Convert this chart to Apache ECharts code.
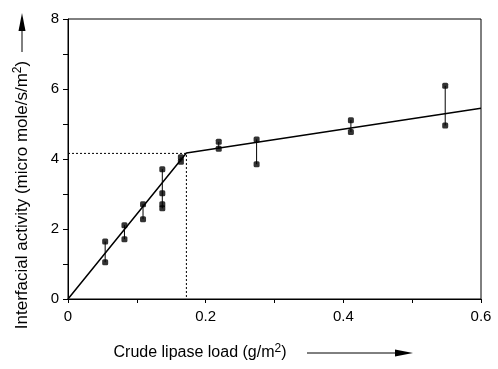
<!DOCTYPE html>
<html>
<head>
<meta charset="utf-8">
<script src="https://cdn.jsdelivr.net/npm/echarts@6/dist/echarts.min.js"></script>
<style>
  html, body { margin: 0; padding: 0; background: #fff; }
  #chart { width: 498px; height: 369px; }
</style>
</head>
<body>
<div id="chart"></div>
<script>
// lipase loads (g/m2) and the replicate activities measured at each
const loads = [0.054, 0.082, 0.109, 0.137, 0.164, 0.219, 0.274, 0.411, 0.548];
const activities = [
  [1.64, 1.05],
  [2.11, 1.71],
  [2.71, 2.28],
  [3.71, 3.02, 2.71, 2.59],
  [4.05, 3.92],
  [4.49, 4.29],
  [4.56, 3.85],
  [5.11, 4.77],
  [6.09, 4.96]
];
// fitted two-segment line
const fitX = [0, 0.172, 0.6];
const fitY = [0, 4.17, 5.45];
// saturation point marked by the dotted guide
const breakX = 0.172;
const breakY = 4.16;

const xTicks = [0, 0.2, 0.4, 0.6];
const yTicks = [0, 2, 4, 6, 8];

const font = "'Liberation Sans', Arial, sans-serif";

const points = [];
loads.forEach((x, i) => activities[i].forEach(y => points.push([x, y])));

const barSeries = loads.map((x, i) => ({
  type: "line",
  data: [[x, Math.max(...activities[i])], [x, Math.min(...activities[i])]],
  symbol: "none",
  lineStyle: { color: "#000", width: 1 },
  silent: true,
  z: 3
}));

const chart = echarts.init(document.getElementById("chart"));

chart.setOption({
  animation: false,
  backgroundColor: "#fff",
  grid: {
    left: 68, top: 19, right: 17, bottom: 70,
    show: true, borderColor: "#000", borderWidth: 1,
    outerBoundsMode: "none"
  },
  xAxis: {
    type: "value",
    min: xTicks[0], max: xTicks[xTicks.length - 1], interval: 0.2,
    axisLine: { lineStyle: { color: "#000", width: 1 } },
    axisTick: { length: 4, lineStyle: { color: "#000" } },
    minorTick: { show: true, splitNumber: 2, length: 4, lineStyle: { color: "#000" } },
    splitLine: { show: false },
    axisLabel: {
      color: "#000", fontSize: 15, fontFamily: font, margin: 10,
      formatter: v => (v === 0 ? "0" : v.toFixed(1))
    }
  },
  yAxis: {
    type: "value",
    min: yTicks[0], max: yTicks[yTicks.length - 1], interval: 2,
    axisLine: { show: true, lineStyle: { color: "#000", width: 1 } },
    axisTick: { show: true, length: 5, lineStyle: { color: "#000" } },
    minorTick: { show: true, splitNumber: 2, length: 5, lineStyle: { color: "#000" } },
    splitLine: { show: false },
    axisLabel: { color: "#000", fontSize: 15, fontFamily: font, margin: 9 }
  },
  series: [
    {
      type: "line",
      data: [[0, breakY], [breakX, breakY], [breakX, 0]],
      symbol: "none",
      lineStyle: { color: "#000", width: 1, type: [2, 2] },
      silent: true,
      z: 1
    },
    {
      type: "line",
      data: fitX.map((x, i) => [x, fitY[i]]),
      symbol: "none",
      lineStyle: { color: "#000", width: 1.5 },
      silent: true,
      z: 2
    },
    ...barSeries,
    {
      type: "scatter",
      data: points,
      symbol: "roundRect",
      symbolSize: 6,
      itemStyle: { color: "#000" },
      z: 4
    }
  ],
  graphic: [
    {
      type: "text",
      x: 22, y: 195,
      rotation: Math.PI / 2,
      style: {
        text: "Interfacial activity (micro mole/s/m{sup|2})",
        font: "17px " + font,
        fill: "#000",
        align: "center",
        verticalAlign: "middle",
        rich: { sup: { fontSize: 12, fontFamily: font, padding: [0, 0, 9, 0] } }
      }
    },
    {
      type: "line",
      shape: { x1: 22, y1: 52, x2: 22, y2: 28 },
      style: { stroke: "#000", lineWidth: 1 }
    },
    {
      type: "polygon",
      shape: { points: [[18.5, 31], [25.5, 31], [22, 13]] },
      style: { fill: "#000" }
    },
    {
      type: "text",
      x: 200, y: 353,
      style: {
        text: "Crude lipase load (g/m{sup|2})",
        font: "16px " + font,
        fill: "#000",
        align: "center",
        verticalAlign: "middle",
        rich: { sup: { fontSize: 12, fontFamily: font, padding: [0, 0, 9, 0] } }
      }
    },
    {
      type: "line",
      shape: { x1: 307, y1: 353, x2: 398, y2: 353 },
      style: { stroke: "#000", lineWidth: 1 }
    },
    {
      type: "polygon",
      shape: { points: [[395, 349.5], [395, 356.5], [413, 353]] },
      style: { fill: "#000" }
    }
  ]
});
</script>
</body>
</html>
